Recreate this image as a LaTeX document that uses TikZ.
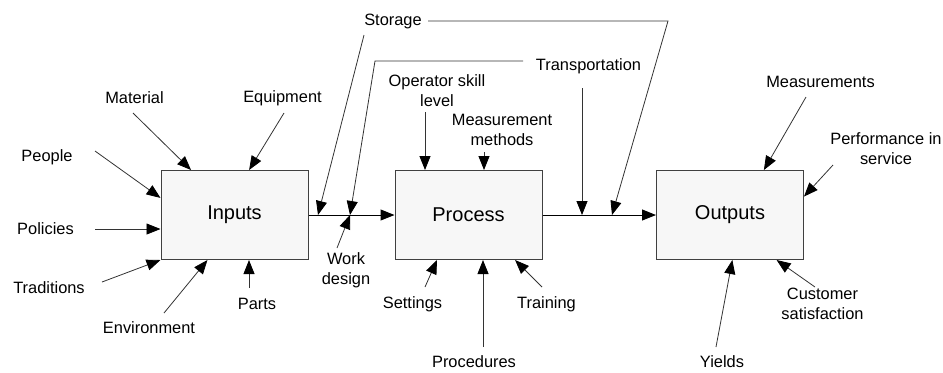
\documentclass[tikz,border=0pt]{standalone}
\usepackage{fontspec}
\setmainfont{Liberation Sans}
\usetikzlibrary{arrows.meta}

\tikzset{
  stage/.style={draw=black!75, line width=0.5pt, fill=gray!6, inner sep=0pt,
    minimum width=73.5pt, minimum height=44.5pt, font=\fontsize{10}{12}\selectfont},
  lbl/.style={align=center, inner sep=3pt, font=\fontsize{8.2}{10}\selectfont},
  feed/.style={line width=0.4pt, draw=black!80, -{Triangle[length=7pt,width=5.5pt,black]}},
  flow/.style={line width=0.5pt, -{Triangle[length=7pt,width=5.5pt]}},
}

\begin{document}
\begin{tikzpicture}[x=0.5pt,y=-0.5pt]
    \useasboundingbox (0,0) rectangle (943,372);

    % the three stages
    \node[stage] (inputs) at (234.5,215){Inputs};
    \node[stage] (process) at (468.5,215){Process};
    \node[stage] (outputs) at (730,215){Outputs};

    \draw[flow] (inputs) -- (process);
    \draw[flow] (process) -- (outputs);

    % inputs side
    \node[lbl] (material) at (134.5,98){Material};
    \node[lbl] (equipment) at (282.5,98){Equipment};
    \node[lbl] (people) at (47,157){People};
    \node[lbl] (policies) at (45.5,229){Policies};
    \node[lbl] (traditions) at (49,288){Traditions};
    \node[lbl] (environment) at (149,328){Environment};
    \node[lbl] (parts) at (257,304){Parts};

    \coordinate (materialT) at (133,113);
    \coordinate (equipmentT) at (284,113);
    \coordinate (peopleT) at (95,151);
    \coordinate (policiesT) at (95,229);
    \coordinate (traditionsT) at (102,282);
    \coordinate (environmentT) at (164,313);
    \coordinate (partsT) at (249,288);

    \draw[feed] (materialT) -- (inputs.134);
    \draw[feed] (equipmentT) -- (inputs.72);
    \draw[feed] (peopleT) -- (inputs.167);
    \draw[feed] (policiesT) -- (policiesT -| inputs.west);
    \draw[feed] (traditionsT) -- (inputs.south west);
    \draw[feed] (environmentT) -- (inputs.239);
    \draw[feed] (partsT) -- (partsT |- inputs.south);

    % between inputs and process
    \node[lbl] (workdesign) at (346,270){Work\\design};
    \node[lbl] (storage) at (393,21){Storage};
    \node[lbl] (transportation) at (588.5,66){Transportation};

    \coordinate (stj1) at (318,215);
    \coordinate (wdj) at (350,215);
    \coordinate (trj) at (582,215);
    \coordinate (stj2) at (612,215);

    \coordinate (wdT) at (337,248);
    \coordinate (stL) at (364,35);
    \coordinate (stc) at (668,18);
    \coordinate (trL) at (523,61);
    \coordinate (trc) at (375,61);
    \coordinate (trT) at (582,88);

    \draw[feed] (wdT) -- (wdj);
    \draw[feed] (stL) -- (stj1);
    \draw[feed] (storage.east) -- (storage.east -| stc) -- (stj2);
    \draw[feed] (trL) -- (trc) -- (wdj);
    \draw[feed] (trT) -- (trj);

    % process side
    \node[lbl] (operator) at (437,91){Operator skill\\level};
    \node[lbl] (measmethods) at (502,130){Measurement\\methods};
    \node[lbl] (settings) at (412.5,304){Settings};
    \node[lbl] (procedures) at (474,362){Procedures};
    \node[lbl] (training) at (546.5,304){Training};

    \coordinate (operatorT) at (425,112);
    \coordinate (measmethodsT) at (484,152);
    \coordinate (settingsT) at (425,287);
    \coordinate (proceduresT) at (483,347);
    \coordinate (trainingT) at (542,287);

    \draw[feed] (operatorT) -- (operatorT |- process.north);
    \draw[feed] (measmethodsT) -- (measmethodsT |- process.north);
    \draw[feed] (settingsT) -- (process.235);
    \draw[feed] (proceduresT) -- (proceduresT |- process.south);
    \draw[feed] (trainingT) -- (process.316);

    % outputs side
    \node[lbl] (measurements) at (820.5,82){Measurements};
    \node[lbl] (performance) at (886,149){Performance in\\service};
    \node[lbl] (customer) at (822.5,304){Customer\\satisfaction};
    \node[lbl] (yields) at (722,362){Yields};

    \coordinate (measurementsT) at (806,97);
    \coordinate (performanceT) at (833,165);
    \coordinate (customerT) at (815,287);
    \coordinate (yieldsT) at (716,347);

    \draw[feed] (measurementsT) -- (outputs.53);
    \draw[feed] (performanceT) -- (outputs.14);
    \draw[feed] (customerT) -- (outputs.316);
    \draw[feed] (yieldsT) -- (outputs.273);
\end{tikzpicture}
\end{document}
